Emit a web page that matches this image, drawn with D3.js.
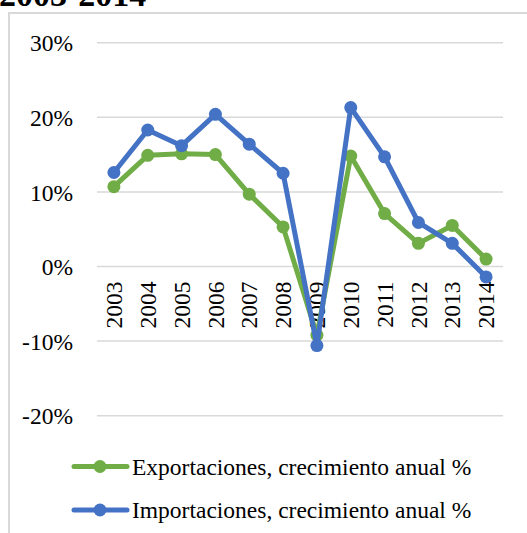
<!DOCTYPE html>
<html>
<head>
<meta charset="utf-8">
<script src="https://cdn.jsdelivr.net/npm/d3@7"></script>
<style>
  body { margin: 0; background: #fff; }
  svg { display: block; font-family: "Liberation Serif", "Times New Roman", serif; }
</style>
</head>
<body>
<svg></svg>
<script>
const w = 527;
const h = 533;
const fs = 23.5;

// data
const years = ['2003', '2004', '2005', '2006', '2007', '2008', '2009', '2010', '2011', '2012', '2013', '2014'];
const exportaciones = [10.7, 14.9, 15.1, 15.0, 9.7, 5.3, -9.2, 14.8, 7.1, 3.1, 5.5, 1.0];
const importaciones = [12.6, 18.3, 16.2, 20.4, 16.4, 12.5, -10.6, 21.3, 14.7, 5.9, 3.1, -1.4];
const yTicks = [30, 20, 10, 0, -10, -20];

const series = [
    { name: 'Exportaciones, crecimiento anual %', values: exportaciones, color: '#70ad47' },
    { name: 'Importaciones, crecimiento anual %', values: importaciones, color: '#4472c4' }
];

const svg = d3.select('svg')
    .attr('width', w)
    .attr('height', h);

// title (cut off at top, as in the source)
svg.append('text')
    .attr('x', -1)
    .attr('y', 6)
    .attr('font-size', 34)
    .attr('font-weight', 'bold')
    .attr('fill', '#000')
    .text('2003-2014');

// chart area border
svg.append('rect')
    .attr('x', 9)
    .attr('y', 13)
    .attr('width', 540)
    .attr('height', 560)
    .attr('fill', 'none')
    .attr('stroke', '#d9d9d9')
    .attr('stroke-width', 2);

// scales
const x = d3.scaleBand()
    .domain(years)
    .range([97, 503]);

const y = d3.scaleLinear()
    .domain([-20, 30])
    .range([415.7, 42.7]);

// gridlines
svg.append('g')
    .selectAll('line')
    .data(yTicks)
    .enter()
    .append('line')
    .attr('x1', 97)
    .attr('x2', 503)
    .attr('y1', d => y(d))
    .attr('y2', d => y(d))
    .attr('stroke', '#d9d9d9')
    .attr('stroke-width', 1.5);

// y-axis
const yAxis = d3.axisLeft(y)
    .tickValues(yTicks)
    .tickSize(0)
    .tickPadding(0)
    .tickFormat(d => d + '%');

svg.append('g')
    .attr('transform', 'translate(73,0)')
    .call(yAxis)
    .call(g => g.select('.domain').remove())
    .selectAll('text')
    .attr('font-family', '"Liberation Serif", serif')
    .attr('font-size', fs)
    .attr('fill', '#000')
    .attr('dy', '0.35em');

// x-axis labels sit at the 0% line, rotated
const xAxis = d3.axisBottom(x).tickSize(0).tickPadding(0);

svg.append('g')
    .attr('transform', 'translate(0,' + y(0) + ')')
    .call(xAxis)
    .call(g => g.select('.domain').remove())
    .selectAll('text')
    .attr('font-family', '"Liberation Serif", serif')
    .attr('font-size', fs)
    .attr('fill', '#000')
    .attr('text-anchor', 'end')
    .attr('transform', 'rotate(-90)')
    .attr('x', -15)
    .attr('y', 0)
    .attr('dy', '0.35em');

const line = d3.line()
    .x((d, i) => x(years[i]) + x.bandwidth() / 2)
    .y(d => y(d));

// lines and markers
series.forEach(s => {
    svg.append('path')
        .datum(s.values)
        .attr('d', line)
        .attr('fill', 'none')
        .attr('stroke', s.color)
        .attr('stroke-width', 5)
        .attr('stroke-linejoin', 'round');

    svg.append('g')
        .selectAll('circle')
        .data(s.values)
        .enter()
        .append('circle')
        .attr('cx', (d, i) => x(years[i]) + x.bandwidth() / 2)
        .attr('cy', d => y(d))
        .attr('r', 6.5)
        .attr('fill', s.color);
});

// legend
const legend = svg.append('g')
    .selectAll('g')
    .data(series)
    .enter()
    .append('g')
    .attr('transform', (d, i) => 'translate(0,' + (466.5 + i * 43.5) + ')');

legend.append('line')
    .attr('x1', 74)
    .attr('x2', 127)
    .attr('stroke', d => d.color)
    .attr('stroke-width', 5)
    .attr('stroke-linecap', 'round');

legend.append('circle')
    .attr('cx', 100)
    .attr('r', 6.5)
    .attr('fill', d => d.color);

legend.append('text')
    .attr('x', 132)
    .attr('dy', '0.35em')
    .attr('font-size', fs)
    .attr('fill', '#000')
    .text(d => d.name);
</script>
</body>
</html>
